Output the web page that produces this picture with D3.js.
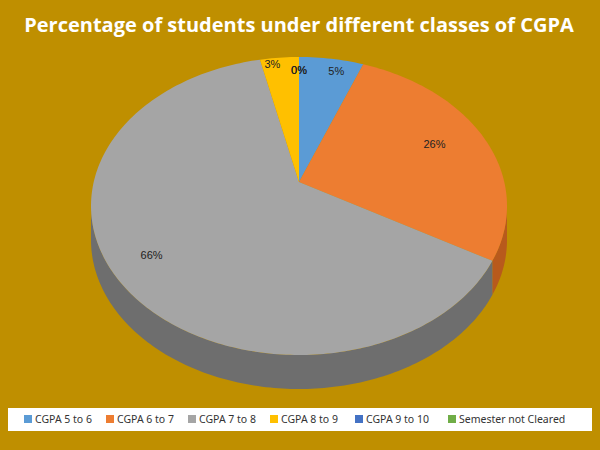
<!DOCTYPE html><html><head><script src="https://cdn.jsdelivr.net/npm/d3@7"></script>
<style>body{margin:0;background:#BF8F00}</style></head><body><svg width="600" height="450"></svg><script>
const categories=["CGPA 5 to 6","CGPA 6 to 7","CGPA 7 to 8","CGPA 8 to 9","CGPA 9 to 10","Semester not Cleared"];
const values=[5,26,66,3,0,0];
const labels=["5%","26%","66%","3%","0%","0%"];
const colors=["#5B9BD5","#ED7D31","#A5A5A5","#FFC000","#4472C4","#70AD47"];
const sides=["#3d7ab0","#b85a1c","#6e6e6e","#c79500","#2f5597","#507e32"];
const svg=d3.select("svg");
svg.append("rect").attr("width",600).attr("height",450).attr("fill","#BF8F00");
svg.append("text").attr("x",299).attr("y",32).attr("text-anchor","middle").attr("fill","#fff")
 .attr("font-family","Open Sans, Liberation Sans, sans-serif").attr("font-weight","bold").attr("font-size",20).text("Percentage of students under different classes of CGPA");
const cx=299,cy=206,rx=208,ry=149,depth=34;
const pie=d3.pie().sort(null).value(d=>d)(values);
const P=(a,dy=0)=>[cx+rx*Math.sin(a),cy-ry*Math.cos(a)+dy];
function arcPts(a0,a1,dy){const n=Math.max(2,Math.ceil((a1-a0)/0.02));return d3.range(n+1).map(i=>P(a0+(a1-a0)*i/n,dy));}
const g=svg.append("g");
pie.forEach((p,i)=>{
 const a0=Math.max(p.startAngle,Math.PI/2),a1=Math.min(p.endAngle,3*Math.PI/2);
 if(a1<=a0)return;
 const top=arcPts(a0,a1,0),bot=arcPts(a0,a1,depth).reverse();
 g.append("path").attr("d","M"+top.concat(bot).map(q=>q.join(",")).join("L")+"Z").attr("fill",sides[i]);
});
pie.forEach((p,i)=>{
 if(p.endAngle-p.startAngle<=0)return;
 const pts=[[cx,cy-24]].concat(arcPts(p.startAngle,p.endAngle,0));
 g.append("path").attr("d","M"+pts.map(q=>q.join(",")).join("L")+"Z").attr("fill",colors[i]);
});
const lr=[0.9,0.72,0.92,0.95,0.9,0.9];
const shift=[8,0,0,-8,0,0];
pie.forEach((p,i)=>{
 const a=(p.startAngle+p.endAngle)/2;
 const [x,y]=[cx+rx*lr[i]*Math.sin(a)+shift[i],cy-24-(ry-24)*lr[i]*Math.cos(a)];
 g.append("text").attr("x",x).attr("y",y+4).attr("text-anchor","middle").attr("font-family","Liberation Sans, sans-serif").attr("font-size",11).attr("fill","#222").text(labels[i]);
});
svg.append("rect").attr("x",8).attr("y",408).attr("width",584).attr("height",23).attr("fill","#fff");
const lx=[24,106,188,270,355,448];
categories.forEach((c,i)=>{
 svg.append("rect").attr("x",lx[i]).attr("y",415).attr("width",8).attr("height",8).attr("fill",colors[i]);
 svg.append("text").attr("x",lx[i]+11).attr("y",423).attr("font-family","Noto Sans, sans-serif").attr("font-size",10.5).attr("fill","#333").text(c);
});
</script></body></html>
